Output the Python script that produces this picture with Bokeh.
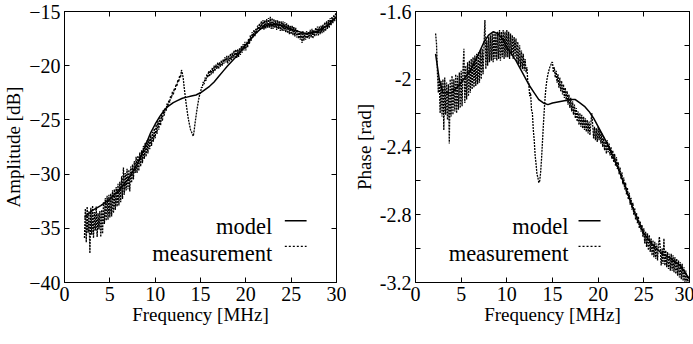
import numpy as np
from bokeh.plotting import figure
from bokeh.layouts import row
from bokeh.models import (Range1d, LinearAxis, FixedTicker, Label, Arrow,
                          CustomLabelingPolicy)
from bokeh.embed import file_html
from bokeh.resources import INLINE

FONT = "Liberation Serif"

# measurement frequency grid 2.2 .. 30.0 MHz, 0.1 MHz step
meas_freq = np.round(np.arange(22, 301) / 10.0, 1)

amp_meas = [
    -35.9, -33.2, -36.3, -33.0, -35.4, -33.4, -37.3, -33.1,
    -35.6, -32.9, -35.9, -33.5, -35.2, -33.0, -35.8, -33.6, -35.1, -33.4,
    -35.8, -33.3, -35.5, -32.6, -34.6, -32.2, -34.3, -32.0, -34.2, -31.9,
    -34.0, -31.8, -33.9, -31.5, -33.6, -31.4, -33.3, -31.2, -33.0, -30.9,
    -32.9, -30.7, -32.6, -30.2, -32.3, -29.4, -31.9, -29.9, -31.5, -29.5,
    -31.4, -29.6, -31.6, -29.3, -30.8, -29.1, -30.5, -28.8, -29.9, -28.4,
    -29.9, -28.3, -29.7, -28.0, -29.3, -27.8, -29.0, -27.4, -28.6, -27.1,
    -28.4, -26.9, -28.1, -26.7, -27.7, -26.4, -27.4, -26.1, -27.0, -25.8,
    -26.7, -25.4, -26.3, -25.1, -25.9, -24.8, -25.5, -24.5, -25.1, -24.1,
    -24.6, -23.9, -24.2, -23.5, -23.8, -23.2, -23.4, -22.8, -23.0, -22.4,
    -22.7, -22.1, -22.3, -21.7, -21.9, -21.3, -21.5, -20.9, -21.1, -20.4,
    -20.7, -21.2, -22.0, -22.7, -23.4, -24.0, -24.6, -25.1, -25.5, -25.9,
    -26.1, -26.3, -26.5, -26.0, -25.3, -24.7, -24.1, -23.6, -23.1, -22.7,
    -22.5, -22.0, -22.0, -21.5, -21.7, -21.1, -21.4, -20.8, -21.1, -20.5,
    -21.0, -20.4, -20.8, -20.2, -20.7, -20.0, -20.5, -19.9, -20.3, -19.7,
    -20.3, -19.7, -20.1, -19.5, -20.0, -19.4, -19.8, -19.2, -19.7, -19.1,
    -19.8, -19.1, -19.6, -18.9, -19.5, -18.8, -19.3, -18.6, -19.2, -18.5,
    -19.3, -18.5, -19.2, -18.4, -19.0, -18.2, -18.8, -18.0, -18.6, -17.8,
    -18.6, -17.8, -18.3, -17.5, -18.0, -17.2, -17.7, -16.9, -17.4, -16.7,
    -17.3, -16.6, -17.0, -16.3, -16.8, -16.1, -16.7, -15.9, -16.6, -15.8,
    -16.7, -15.8, -16.6, -15.7, -16.5, -15.6, -16.5, -15.5, -16.6, -15.6,
    -16.6, -15.7, -16.5, -15.8, -16.7, -15.8, -16.6, -15.9, -16.8, -15.9,
    -16.8, -15.9, -16.8, -16.0, -16.9, -16.1, -17.0, -16.2, -17.1, -16.3,
    -17.1, -16.3, -17.2, -16.4, -17.3, -16.5, -17.4, -16.7, -17.5, -16.8,
    -17.6, -16.9, -17.9, -16.8, -17.7, -17.0, -17.6, -16.8, -17.5, -16.9,
    -17.5, -16.7, -17.4, -16.6, -17.5, -16.7, -17.3, -16.5, -17.2, -16.4,
    -17.2, -16.4, -17.1, -16.3, -17.0, -16.2, -16.9, -16.0, -16.8, -15.9,
    -16.6, -15.8, -16.5, -15.6, -16.3, -15.5, -16.1, -15.3, -15.9, -15.2,
    -15.1,
]

phase_meas = [
    -1.73, -1.79, -1.96, -2.08, -1.99, -2.20, -2.01, -2.22,
    -2.00, -2.30, -1.99, -2.21, -2.02, -2.24, -2.03, -2.38, -2.00, -2.22,
    -1.98, -2.21, -2.00, -2.19, -1.97, -2.20, -1.98, -2.18, -1.96, -2.17,
    -1.95, -2.16, -1.94, -1.82, -2.14, -1.92, -2.12, -1.90, -2.10, -1.89,
    -2.08, -1.88, -2.06, -1.87, -2.05, -1.86, -2.04, -1.85, -2.03, -1.84,
    -2.02, -1.83, -2.00, -1.82, -1.97, -1.80, -1.65, -1.94, -1.77, -1.92,
    -1.75, -1.90, -1.74, -1.89, -1.73, -1.90, -1.72, -1.88, -1.73, -1.89,
    -1.72, -1.88, -1.71, -1.89, -1.72, -1.87, -1.71, -1.88, -1.72, -1.87,
    -1.71, -1.87, -1.72, -1.88, -1.73, -1.86, -1.74, -1.88, -1.75, -1.87,
    -1.76, -1.90, -1.78, -1.91, -1.80, -1.93, -1.83, -1.94, -1.85, -1.95,
    -1.88, -1.96, -1.93, -2.02, -2.02, -2.10, -2.08, -2.18, -2.20, -2.30,
    -2.36, -2.45, -2.50, -2.56, -2.58, -2.61, -2.60, -2.55, -2.47, -2.37,
    -2.27, -2.18, -2.10, -2.04, -2.00, -1.97, -1.95, -1.93, -1.92, -1.90,
    -1.90, -1.96, -1.93, -1.99, -1.95, -2.02, -1.97, -2.05, -1.99, -2.07,
    -2.01, -2.09, -2.03, -2.11, -2.05, -2.13, -2.07, -2.15, -2.09, -2.17,
    -2.11, -2.19, -2.13, -2.21, -2.15, -2.23, -2.17, -2.25, -2.19, -2.27,
    -2.20, -2.28, -2.21, -2.29, -2.22, -2.30, -2.23, -2.31, -2.24, -2.32,
    -2.25, -2.33, -2.26, -2.20, -2.27, -2.35, -2.28, -2.36, -2.29, -2.37,
    -2.28, -2.36, -2.30, -2.38, -2.32, -2.40, -2.34, -2.42, -2.36, -2.44,
    -2.36, -2.43, -2.38, -2.45, -2.40, -2.47, -2.42, -2.49, -2.44, -2.51,
    -2.46, -2.53, -2.49, -2.56, -2.52, -2.59, -2.55, -2.62, -2.58, -2.65,
    -2.61, -2.68, -2.64, -2.71, -2.67, -2.74, -2.70, -2.77, -2.73, -2.80,
    -2.76, -2.83, -2.79, -2.85, -2.81, -2.88, -2.84, -2.90, -2.86, -2.93,
    -2.88, -2.97, -2.90, -2.99, -2.91, -3.01, -2.92, -3.02, -2.94, -3.04,
    -2.95, -3.05, -2.96, -3.06, -2.97, -3.07, -2.98, -2.93, -3.00, -3.10,
    -3.00, -3.09, -2.94, -3.10, -3.01, -3.11, -3.02, -3.12, -3.03, -3.13,
    -3.03, -3.13, -3.04, -3.14, -3.05, -3.15, -3.06, -3.16, -3.07, -3.17,
    -3.08, -3.18, -3.09, -3.19, -3.11, -3.20, -3.13, -3.21, -3.16, -3.22,
    -3.20,
]

amp_model_freq = [2.2, 3, 4, 5, 6, 7, 8, 8.5, 9, 9.5, 10, 10.5, 11, 11.5, 12,
                  12.5, 13, 13.5, 14, 14.5, 15, 15.5, 16, 16.5, 17, 17.5, 18,
                  19, 20, 21, 21.5, 22, 22.5, 23, 24, 25, 26, 26.5, 27, 28, 29, 30]
amp_model = [-34.0, -33.4, -32.9, -32.3, -31.5, -30.5, -29.1, -28.2, -27.2,
             -26.2, -25.4, -24.7, -24.1, -23.7, -23.4, -23.2, -23.0, -22.9,
             -22.8, -22.7, -22.5, -22.2, -21.9, -21.5, -21.0, -20.5, -20.0,
             -19.1, -18.1, -17.1, -16.7, -16.4, -16.25, -16.2, -16.3, -16.6,
             -16.9, -17.0, -17.0, -16.8, -16.3, -15.5]

phase_model_freq = [2.2, 2.6, 3, 4, 5, 6, 7, 7.5, 8, 8.5, 9, 9.5, 10, 10.5, 11,
                    11.5, 12, 12.5, 13, 13.5, 14, 14.5, 15, 16, 17, 17.5, 18,
                    18.5, 19, 19.5, 20, 21, 22, 23, 24, 25, 26, 27, 28, 29, 30]
phase_model = [-1.85, -2.00, -2.08, -2.08, -2.02, -1.95, -1.84, -1.78, -1.74,
               -1.72, -1.73, -1.76, -1.81, -1.85, -1.89, -1.94, -1.99, -2.04,
               -2.08, -2.12, -2.14, -2.15, -2.14, -2.13, -2.12, -2.12, -2.14,
               -2.16, -2.19, -2.23, -2.28, -2.38, -2.50, -2.64, -2.79, -2.91,
               -2.98, -3.03, -3.06, -3.10, -3.18]

x_ticks = [0, 5, 10, 15, 20, 25, 30]
amp_ticks = [-40, -35, -30, -25, -20, -15]
phase_ticks = [-3.2, -3.0, -2.8, -2.6, -2.4, -2.2, -2.0, -1.8, -1.6]
phase_tick_labels = {-3.2: "-3.2", -3.0: "", -2.8: "-2.8", -2.6: "", -2.4: "-2.4",
                     -2.2: "", -2.0: "-2", -1.8: "", -1.6: "-1.6"}

assert len(amp_meas) == len(meas_freq) == len(phase_meas)
assert len(amp_model) == len(amp_model_freq)
assert len(phase_model) == len(phase_model_freq)

NO_LABELS = CustomLabelingPolicy(
    code="for (const i of Array.from(indices)) { indices.unset(i) }; return indices;")

MEAS_DASH = "2 1"
MEAS_WIDTH = 1.3


def style_axis(ax, show_labels=True):
    ax.major_tick_in = 5
    ax.major_tick_out = 0
    ax.minor_tick_in = 0
    ax.minor_tick_out = 0
    ax.axis_line_color = "black"
    ax.major_tick_line_color = "black"
    ax.major_label_text_font = FONT
    ax.major_label_text_color = "black"
    if show_labels:
        ax.major_label_text_font_size = "20px"
        ax.major_label_standoff = 4
    else:
        ax.major_label_text_font_size = "1px"
        ax.major_label_standoff = 0
        ax.major_label_policy = NO_LABELS
    ax.axis_label_text_font = FONT
    ax.axis_label_text_font_size = "19px"
    ax.axis_label_text_font_style = "normal"
    ax.axis_label_text_color = "black"


def make_fig(fw, bl, br, yr, ylabel, yticks, overrides=None):
    p = figure(frame_width=fw, frame_height=271, x_range=Range1d(0, 30),
               y_range=Range1d(*yr), toolbar_location=None, output_backend="svg",
               min_border_left=bl, min_border_right=br, min_border_top=11,
               min_border_bottom=48)
    p.grid.visible = False
    p.outline_line_color = "black"
    p.background_fill_color = "white"
    p.border_fill_color = "white"
    p.xaxis.ticker = FixedTicker(ticks=x_ticks)
    p.yaxis.ticker = FixedTicker(ticks=yticks)
    p.xaxis.axis_label = "Frequency [MHz]"
    p.yaxis.axis_label = ylabel
    p.xaxis.axis_label_standoff = 0
    p.yaxis.axis_label_standoff = 2
    if overrides:
        p.yaxis.major_label_overrides = overrides
    style_axis(p.xaxis[0])
    style_axis(p.yaxis[0])
    top = LinearAxis(ticker=FixedTicker(ticks=x_ticks))
    right = LinearAxis(ticker=FixedTicker(ticks=yticks))
    style_axis(top, False)
    style_axis(right, False)
    p.add_layout(top, "above")
    p.add_layout(right, "right")
    return p


p1 = make_fig(272, 55, 10, (-40, -15), "Amplitude [dB]", amp_ticks)
p1.line(meas_freq, amp_meas, line_color="black", line_width=MEAS_WIDTH, line_dash=MEAS_DASH)
p1.line(amp_model_freq, amp_model, line_color="black", line_width=1.5)

p2 = make_fig(274, 69, 2, (-3.2, -1.6), "Phase [rad]", phase_ticks, phase_tick_labels)
p2.line(meas_freq, phase_meas, line_color="black", line_width=MEAS_WIDTH, line_dash=MEAS_DASH)
p2.line(phase_model_freq, phase_model, line_color="black", line_width=1.5)


def add_legend(p, tx, y_model, y_meas, lx0, lx1, ly_model, ly_meas):
    for txt, yy in (("model", y_model), ("measurement", y_meas)):
        p.add_layout(Label(x=tx, y=yy, text=txt, text_font=FONT, text_font_size="22.5px",
                           text_align="right", text_baseline="alphabetic",
                           text_color="black"))
    p.add_layout(Arrow(end=None, x_start=lx0, x_end=lx1, y_start=ly_model, y_end=ly_model,
                       line_color="black", line_width=1.5))
    p.add_layout(Arrow(end=None, x_start=lx0, x_end=lx1, y_start=ly_meas, y_end=ly_meas,
                       line_color="black", line_width=1.4, line_dash="2 2"))


add_legend(p1, 22.9, -34.84, -37.28, 24.3, 26.7, -34.3, -36.67)
add_legend(p2, 16.76, -2.870, -3.026, 17.85, 20.26, -2.835, -2.987)

layout = row(p1, p2)
open("out.html", "w").write(file_html(layout, INLINE))
